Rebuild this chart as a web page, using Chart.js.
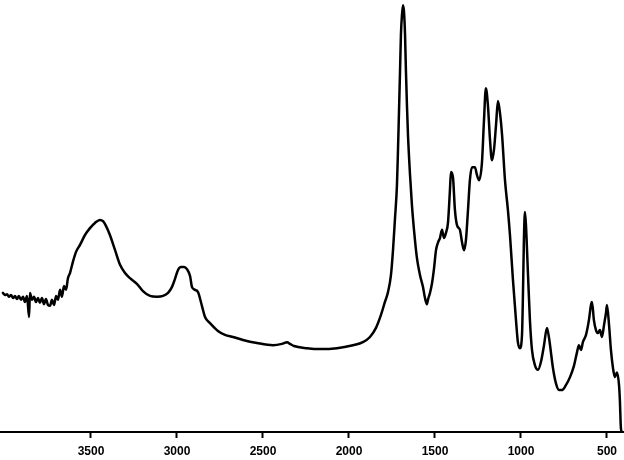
<!DOCTYPE html>
<html>
<head>
<meta charset="utf-8">
<script src="https://cdn.jsdelivr.net/npm/chart.js@4"></script>
<style>
  html, body { margin: 0; padding: 0; background: #fff; }
  #chart-container { width: 624px; height: 460px; }
</style>
</head>
<body>
<div id="chart-container"><canvas id="spectrum"></canvas></div>
<script>
// wavenumber (cm-1)
const wavenumbers = [
    4012, 4000, 3988, 3977, 3965, 3953, 3942, 3930, 3919, 3907, 3895, 3884, 3872, 3860, 3855,
    3843, 3831, 3820, 3808, 3797, 3785, 3773, 3762, 3750, 3738, 3727, 3715, 3703, 3692, 3680,
    3669, 3657, 3645, 3634, 3622, 3605, 3587, 3564, 3535, 3506, 3477, 3448, 3430, 3413, 3390,
    3360, 3331, 3302, 3273, 3233, 3198, 3157, 3116, 3081, 3052, 3029, 3012, 2994, 2977, 2959,
    2942, 2924, 2913, 2895, 2878, 2855, 2837, 2808, 2762, 2721, 2674, 2616, 2535, 2442, 2390,
    2360, 2343, 2320, 2244, 2169, 2070, 1977, 1919, 1878, 1843, 1814, 1791, 1773, 1756, 1744,
    1733, 1721, 1715, 1709, 1703, 1698, 1692, 1686, 1680, 1674, 1669, 1663, 1657, 1645, 1634,
    1622, 1605, 1587, 1570, 1558, 1547, 1541, 1529, 1517, 1506, 1494, 1483, 1471, 1459, 1448,
    1436, 1424, 1413, 1407, 1395, 1384, 1372, 1355, 1343, 1331, 1320, 1308, 1297, 1285, 1268,
    1256, 1244, 1227, 1215, 1204, 1192, 1180, 1169, 1157, 1145, 1134, 1122, 1110, 1093, 1076,
    1064, 1047, 1029, 1018, 1006, 994, 988, 983, 977, 971, 959, 948, 936, 919, 901,
    884, 866, 849, 837, 826, 814, 797, 779, 762, 738, 715, 692, 674, 663, 651,
    640, 622, 605, 593, 587, 576, 564, 552, 541, 529, 517, 506, 500, 488, 477,
    465, 454, 442, 430, 425, 419, 413
]

// relative absorption (0 = baseline axis, 100 = top of plot)
const absorption = [
    32.2, 31.7, 31.9, 31.3, 31.7, 31.0, 31.5, 30.8, 31.5, 30.6, 31.3, 30.1, 31.5, 26.6, 32.2,
    30.6, 31.3, 30.1, 31.0, 29.9, 31.0, 29.6, 30.8, 29.4, 29.2, 30.6, 29.4, 31.5, 30.6, 32.9,
    31.3, 33.8, 32.9, 35.6, 36.8, 39.4, 41.7, 43.3, 45.6, 47.2, 48.4, 49.1, 48.8, 47.7, 45.6,
    42.1, 38.7, 36.8, 35.6, 34.3, 32.6, 31.5, 31.3, 31.5, 32.2, 33.6, 35.4, 37.5, 38.2, 38.2,
    37.7, 36.1, 33.6, 32.9, 32.4, 29.2, 26.6, 25.2, 23.4, 22.5, 22.0, 21.3, 20.6, 20.1, 20.4,
    20.8, 20.4, 19.9, 19.4, 19.2, 19.4, 20.1, 20.8, 22.0, 24.1, 27.1, 30.1, 32.4, 36.3, 42.1,
    49.1, 57.2, 65.3, 74.5, 83.8, 91.9, 96.5, 98.8, 97.2, 91.9, 83.8, 75.7, 68.8, 59.5, 52.5,
    46.8, 40.3, 36.3, 33.6, 31.0, 29.6, 30.6, 32.2, 34.5, 37.7, 42.1, 43.8, 44.9, 46.8, 44.9,
    46.1, 48.6, 56.0, 60.2, 58.8, 51.4, 47.9, 46.8, 44.0, 42.1, 44.4, 51.4, 58.3, 61.3, 61.3,
    59.5, 58.3, 62.3, 72.2, 79.6, 75.5, 67.6, 62.9, 65.3, 71.1, 76.6, 73.8, 68.8, 58.3, 51.4,
    45.6, 35.4, 25.9, 20.8, 19.4, 22.5, 32.9, 44.4, 50.9, 47.9, 36.3, 25.9, 19.0, 15.5, 14.4,
    16.2, 20.1, 24.1, 21.8, 18.5, 14.8, 11.3, 9.7, 9.7, 10.9, 12.7, 15.3, 18.5, 20.1, 19.0,
    20.8, 22.5, 25.9, 29.4, 30.1, 25.9, 23.6, 22.9, 23.6, 22.0, 24.8, 27.5, 29.4, 24.8, 19.0,
    14.8, 12.7, 13.8, 10.9, 7.4, 0.9, 0
]

const tickValues = [3500, 3000, 2500, 2000, 1500, 1000, 500]

const points = wavenumbers.map((w, i) => ({ x: w, y: absorption[i] }))

new Chart(document.getElementById('spectrum'), {
    type: 'line',
    data: {
        datasets: [{
            data: points,
            borderColor: '#000',
            borderWidth: 2.5,
            borderJoinStyle: 'round',
            borderCapStyle: 'round',
            pointRadius: 0,
            cubicInterpolationMode: 'monotone',
            fill: false,
        }],
    },
    options: {
        responsive: true,
        maintainAspectRatio: false,
        animation: false,
        layout: { padding: 0 },
        plugins: {
            legend: { display: false },
            tooltip: { enabled: false },
        },
        scales: {
            x: {
                type: 'linear',
                reverse: true,
                min: 401,
                max: 4029,
                afterBuildTicks(scale) {
                    scale.ticks = tickValues.map((v) => ({ value: v }))
                },
                afterFit(scale) {
                    scale.height = 28
                },
                border: { display: true, color: '#000', width: 2 },
                grid: {
                    drawOnChartArea: false,
                    drawTicks: true,
                    tickLength: 6,
                    tickWidth: 2,
                    tickColor: '#000',
                },
                ticks: {
                    color: '#000',
                    padding: 6,
                    maxRotation: 0,
                    autoSkip: false,
                    font: { family: 'Liberation Sans', size: 12, weight: 'bold' },
                    callback: (v) => String(v),
                },
            },
            y: {
                display: false,
                min: 0,
                max: 100,
            },
        },
    },
})
</script>
</body>
</html>
